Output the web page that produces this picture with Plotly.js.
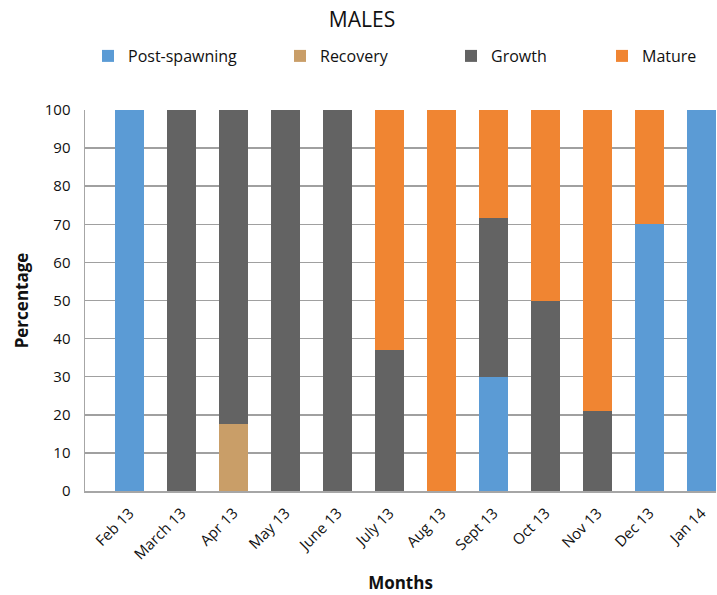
<!DOCTYPE html>
<html>
<head>
<meta charset="utf-8">
<script src="https://cdn.plot.ly/plotly-3.0.1.min.js"></script>
<style>html,body{margin:0;padding:0;background:#fff;}#chart{width:717px;height:595px;}</style>
</head>
<body>
<div id="chart"></div>
<script>
const months = ["Feb 13","March 13","Apr 13","May 13","June 13","July 13","Aug 13","Sept 13","Oct 13","Nov 13","Dec 13","Jan 14"];
const postSpawning = [100,0,0,0,0,0,0,30,0,0,70,100];
const recovery = [0,0,17.5,0,0,0,0,0,0,0,0,0];
const growth = [0,100,82.5,100,100,37,0,41.7,50,21,0,0];
const mature = [0,0,0,0,0,63,100,28.3,50,79,30,0];
const yTicks = [0,10,20,30,40,50,60,70,80,90,100];

const FONT = "Open Sans, Liberation Sans, sans-serif";
const colors = {post:"#5B9BD5", rec:"#C99E68", gro:"#636363", mat:"#F08532"};

function mk(name, y, color, leg){
  return {type:"bar", name:name, x:months, y:y, marker:{color:color, line:{width:0}},
    width:0.56, legend:leg, hoverinfo:"y+name"};
}
const traces = [
  mk("Post-spawning", postSpawning, colors.post, "legend"),
  mk("Recovery", recovery, colors.rec, "legend2"),
  mk("Growth", growth, colors.gro, "legend3"),
  mk("Mature", mature, colors.mat, "legend4")
];
function leg(xpx){
  return {xref:"container", yref:"container", x:xpx/717, y:1-56/595, xanchor:"left", yanchor:"middle",
    orientation:"h", font:{family:FONT, size:16, color:"#111"}, bgcolor:"rgba(0,0,0,0)", borderwidth:0};
}
const layout = {
  width:717, height:595,
  margin:{l:85, r:1, t:110, b:104, pad:0},
  paper_bgcolor:"#fff", plot_bgcolor:"#fff",
  barmode:"stack",
  title:{text:"MALES", font:{family:FONT, size:21, color:"#111"}, x:362/717, xanchor:"center", xref:"container", y:1-20/595, yanchor:"middle", yref:"container"},
  showlegend:true,
  legend:leg(88), legend2:leg(280), legend3:leg(451), legend4:leg(602),
  xaxis:{type:"category", range:[-0.856, 11.28], tickangle:-45, showgrid:false,
    showline:true, linecolor:"#a6a6a6", linewidth:1.5, ticks:"", ticklabelstandoff:6,
    tickfont:{family:FONT, size:15, color:"#111"},
    title:{text:"Months", font:{family:FONT, size:17, color:"#111", weight:"bold"}, standoff:14},
    fixedrange:true},
  yaxis:{range:[0,100], tickvals:yTicks, ticktext:yTicks.map(String), showgrid:true, gridcolor:"#a0a0a0", gridwidth:1.5,
    zeroline:false, showline:true, linecolor:"#a6a6a6", linewidth:1.5, ticks:"", ticklabelstandoff:10,
    tickfont:{family:FONT, size:15, color:"#111"},
    title:{text:"Percentage", font:{family:FONT, size:17, color:"#111", weight:"bold"}, standoff:12},
    fixedrange:true}
};
Plotly.newPlot("chart", traces, layout, {displayModeBar:false, staticPlot:true});
</script>
</body>
</html>
